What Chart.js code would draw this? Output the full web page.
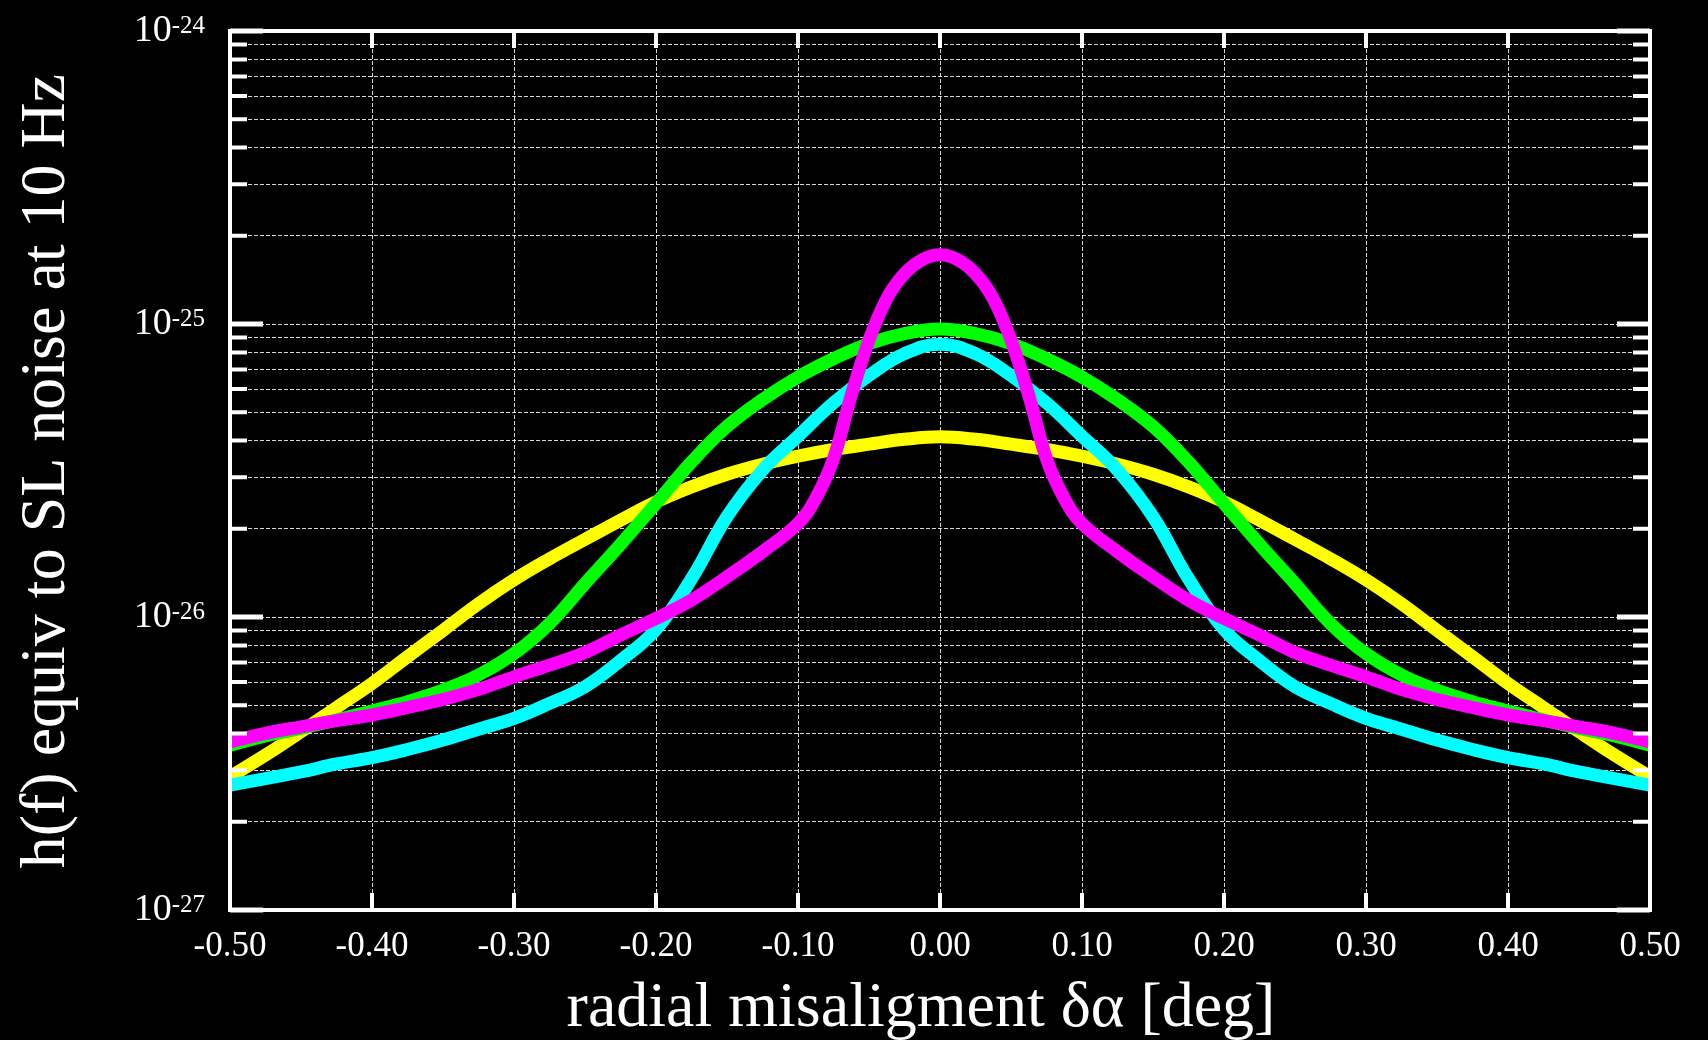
<!DOCTYPE html>
<html>
<head>
<meta charset="utf-8">
<script src="https://cdn.jsdelivr.net/npm/chart.js@4.4.1/dist/chart.umd.min.js"></script>
<style>
  html, body { margin: 0; padding: 0; background: #000; }
  #wrap { position: relative; width: 1708px; height: 1040px; }
</style>
</head>
<body>
<div id="wrap"><canvas id="myChart"></canvas></div>
<script>
// misalignment in degrees
var misalign = [-0.5, -0.475, -0.45, -0.425, -0.4, -0.375, -0.35, -0.325, -0.3, -0.275, -0.25, -0.225, -0.2, -0.175, -0.15, -0.125, -0.1, -0.075, -0.05, -0.025,
  0, 0.025, 0.05, 0.075, 0.1, 0.125, 0.15, 0.175, 0.2, 0.225, 0.25, 0.275, 0.3, 0.325, 0.35, 0.375, 0.4, 0.425, 0.45, 0.475, 0.5]

// the magenta peak is sharper, so it is read on a finer step near zero
var magentaAlign = [-0.5, -0.475, -0.45, -0.425, -0.4, -0.375, -0.35, -0.325, -0.3, -0.275, -0.25, -0.225, -0.2, -0.175, -0.15, -0.125, -0.1,
  -0.0875, -0.075, -0.0625, -0.05, -0.0375, -0.025, -0.0125, 0, 0.0125, 0.025, 0.0375, 0.05, 0.0625, 0.075, 0.0875,
  0.1, 0.125, 0.15, 0.175, 0.2, 0.225, 0.25, 0.275, 0.3, 0.325, 0.35, 0.375, 0.4, 0.425, 0.45, 0.475, 0.5]

var yellowNoise = [2.85e-27, 3.38e-27, 4.06e-27, 4.91e-27, 5.93e-27, 7.32e-27, 9.0e-27, 1.11e-26, 1.34e-26, 1.58e-26, 1.84e-26, 2.14e-26, 2.47e-26, 2.78e-26, 3.07e-26, 3.32e-26, 3.54e-26, 3.73e-26, 3.89e-26, 4.04e-26,
  4.12e-26, 4.04e-26, 3.89e-26, 3.73e-26, 3.54e-26, 3.32e-26, 3.07e-26, 2.78e-26, 2.47e-26, 2.14e-26, 1.84e-26, 1.58e-26, 1.34e-26, 1.11e-26, 9.0e-27, 7.32e-27, 5.93e-27, 4.91e-27, 4.06e-27, 3.38e-27, 2.85e-27]

var greenNoise = [3.65e-27, 3.93e-27, 4.17e-27, 4.45e-27, 4.78e-27, 5.14e-27, 5.63e-27, 6.34e-27, 7.5e-27, 9.5e-27, 1.3e-26, 1.77e-26, 2.44e-26, 3.38e-26, 4.47e-26, 5.52e-26, 6.59e-26, 7.61e-26, 8.57e-26, 9.27e-26,
  9.61e-26, 9.27e-26, 8.57e-26, 7.61e-26, 6.59e-26, 5.52e-26, 4.47e-26, 3.38e-26, 2.44e-26, 1.77e-26, 1.3e-26, 9.5e-27, 7.5e-27, 6.34e-27, 5.63e-27, 5.14e-27, 4.78e-27, 4.45e-27, 4.17e-27, 3.93e-27, 3.65e-27]

var cyanNoise = [2.67e-27, 2.81e-27, 2.96e-27, 3.15e-27, 3.31e-27, 3.53e-27, 3.8e-27, 4.14e-27, 4.51e-27, 5.07e-27, 5.78e-27, 7.1e-27, 9.07e-27, 1.35e-26, 2.2e-26, 3.17e-26, 4.14e-26, 5.38e-26, 6.67e-26, 7.92e-26,
  8.53e-26, 7.92e-26, 6.67e-26, 5.38e-26, 4.14e-26, 3.17e-26, 2.2e-26, 1.35e-26, 9.07e-27, 7.1e-27, 5.78e-27, 5.07e-27, 4.51e-27, 4.14e-27, 3.8e-27, 3.53e-27, 3.31e-27, 3.15e-27, 2.96e-27, 2.81e-27, 2.67e-27]

var magentaNoise = [3.75e-27, 4.01e-27, 4.22e-27, 4.43e-27, 4.63e-27, 4.91e-27, 5.23e-27, 5.66e-27, 6.25e-27, 6.85e-27, 7.57e-27, 8.68e-27, 9.89e-27, 1.142e-26, 1.371e-26, 1.67e-26, 2.085e-26,
  2.54e-26, 3.47e-26, 5.71e-26, 8.8e-26, 1.22e-25, 1.485e-25, 1.658e-25, 1.724e-25, 1.658e-25, 1.485e-25, 1.22e-25, 8.8e-26, 5.71e-26, 3.47e-26, 2.54e-26,
  2.085e-26, 1.67e-26, 1.371e-26, 1.142e-26, 9.89e-27, 8.68e-27, 7.57e-27, 6.85e-27, 6.25e-27, 5.66e-27, 5.23e-27, 4.91e-27, 4.63e-27, 4.43e-27, 4.22e-27, 4.01e-27, 3.75e-27]

var xTickValues = [-0.5, -0.4, -0.3, -0.2, -0.1, 0, 0.1, 0.2, 0.3, 0.4, 0.5]
var xTickLabels = ['-0.50', '-0.40', '-0.30', '-0.20', '-0.10', '0.00', '0.10', '0.20', '0.30', '0.40', '0.50']
var yDecades = [1e-27, 1e-26, 1e-25, 1e-24]
var yDecadeExp = ['-27', '-26', '-25', '-24']
var yMantissas = [1, 2, 3, 4, 5, 6, 7, 8, 9]

var serif = '"Liberation Serif", "Times New Roman", serif'

function toPoints(xs, values) {
  return xs.map(function(x, i) { return {x: x, y: values[i]} })
}

// frame, inward tick marks, 10^n labels and axis titles
var framePlugin = {
  id: 'framePlugin',
  afterDraw: function(chart) {
    var ctx = chart.ctx
    var a = chart.chartArea
    var xs = chart.scales.x
    var ys = chart.scales.y
    ctx.save()
    ctx.strokeStyle = '#fff'
    ctx.lineCap = 'butt'

    ctx.lineWidth = 4
    xTickValues.forEach(function(v) {
      var px = xs.getPixelForValue(v)
      ctx.beginPath()
      ctx.moveTo(px, a.bottom); ctx.lineTo(px, a.bottom - 17)
      ctx.moveTo(px, a.top); ctx.lineTo(px, a.top + 17)
      ctx.stroke()
    })

    ys.ticks.forEach(function(t) {
      var py = ys.getPixelForValue(t.value)
      var len = t.major ? 33 : 17
      ctx.lineWidth = t.major ? 5 : 4
      ctx.beginPath()
      ctx.moveTo(a.left, py); ctx.lineTo(a.left + len, py)
      ctx.moveTo(a.right, py); ctx.lineTo(a.right - len, py)
      ctx.stroke()
    })

    ctx.lineWidth = 4
    ctx.strokeRect(a.left, a.top, a.right - a.left, a.bottom - a.top)

    // y labels 10^n
    ctx.fillStyle = '#fff'
    ctx.textBaseline = 'alphabetic'
    ctx.textAlign = 'left'
    yDecades.forEach(function(v, i) {
      var py = ys.getPixelForValue(v)
      ctx.font = '25px ' + serif
      var supW = ctx.measureText(yDecadeExp[i]).width
      ctx.font = '38px ' + serif
      var tenW = ctx.measureText('10').width
      var xEnd = 205
      ctx.fillText('10', xEnd - supW - tenW, py + 10)
      ctx.font = '25px ' + serif
      ctx.fillText(yDecadeExp[i], xEnd - supW, py + 2)
    })

    // axis titles
    ctx.font = '64px ' + serif
    ctx.textAlign = 'center'
    ctx.fillText('radial misaligment δα [deg]', 921, 1026)
    ctx.translate(63.5, 471)
    ctx.rotate(-Math.PI / 2)
    ctx.fillText('h(f) equiv to SL noise at 10 Hz', 0, 0)
    ctx.restore()
  }
}

var ctx = document.getElementById('myChart').getContext('2d')

var chart = new Chart(ctx, {
  type: 'line',
  data: {
    datasets: [
      {label: 'yellow', data: toPoints(misalign, yellowNoise), borderColor: '#ffff00', order: 4},
      {label: 'green', data: toPoints(misalign, greenNoise), borderColor: '#00ff00', order: 3},
      {label: 'cyan', data: toPoints(misalign, cyanNoise), borderColor: '#00ffff', order: 2},
      {label: 'magenta', data: toPoints(magentaAlign, magentaNoise), borderColor: '#ff00ff', order: 1}
    ]
  },
  options: {
    responsive: true,
    maintainAspectRatio: false,
    animation: false,
    layout: {padding: {top: 31, right: 58, left: 0, bottom: 0}},
    datasets: {
      line: {borderWidth: 13, pointRadius: 0, tension: 0.4, borderJoinStyle: 'round', fill: false, clip: 0}
    },
    plugins: {legend: {display: false}, tooltip: {enabled: false}},
    scales: {
      x: {
        type: 'linear',
        min: -0.5,
        max: 0.5,
        afterBuildTicks: function(scale) {
          scale.ticks = xTickValues.map(function(v) { return {value: v} })
        },
        afterFit: function(scale) { scale.height = 130 },
        ticks: {
          autoSkip: false,
          maxRotation: 0,
          color: '#fff',
          padding: 16,
          font: {family: serif, size: 35},
          callback: function(v, i) { return xTickLabels[i] }
        },
        grid: {color: 'rgba(255,255,255,0.85)', lineWidth: 1, drawTicks: false},
        border: {display: false, dash: [4, 2]}
      },
      y: {
        type: 'logarithmic',
        min: 1e-27,
        max: 1e-24,
        afterBuildTicks: function(scale) {
          var t = []
          yDecades.forEach(function(d, i) {
            yMantissas.forEach(function(m) {
              if (i < yDecades.length - 1 || m === 1) t.push({value: m * d, major: m === 1})
            })
          })
          scale.ticks = t
        },
        afterFit: function(scale) { scale.width = 230 },
        ticks: {display: false},
        grid: {color: 'rgba(255,255,255,0.85)', lineWidth: 1, drawTicks: false},
        border: {display: false, dash: [4, 2]}
      }
    }
  },
  plugins: [framePlugin]
})
</script>
</body>
</html>
